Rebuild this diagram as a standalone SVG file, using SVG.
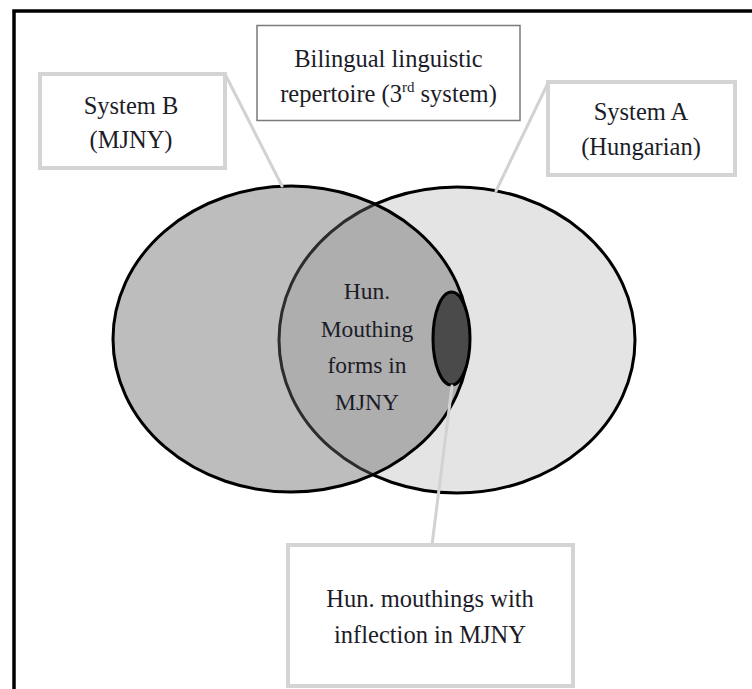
<svg xmlns="http://www.w3.org/2000/svg" width="752" height="689" viewBox="0 0 752 689">
<style>
  .t { font-family: 'Liberation Serif', 'DejaVu Serif', serif; font-size: 24.5px; fill: #1c1c28; text-anchor: middle; }
  .ti { font-family: 'Liberation Serif', 'DejaVu Serif', serif; font-size: 23.5px; fill: #1c1c28; text-anchor: middle; }
  .lbl { fill: #ffffff; stroke: #d4d4d4; stroke-width: 4; }
  .conn { stroke: #d2d2d2; stroke-width: 3; fill: none; stroke-linecap: round; }
  .ell { stroke: #000000; stroke-width: 3; }
</style>
<rect x="0" y="0" width="752" height="689" fill="#ffffff"/>
<rect id="frame" x="14" y="11" width="760" height="720" fill="#ffffff" stroke="#000000" stroke-width="3.5"/>

<g id="systemA-set">
  <ellipse class="ell" cx="457" cy="340" rx="178" ry="153" fill="#e4e4e4"/>
</g>
<g id="systemB-set">
  <ellipse class="ell" cx="291" cy="339" rx="178" ry="153" fill="#656565" fill-opacity="0.43"/>
</g>
<g id="inflection-set">
  <ellipse class="ell" cx="451.5" cy="338.5" rx="18.5" ry="46.5" fill="#4a4a4a"/>
</g>
<g id="overlap-label">
  <text class="ti" x="367" y="299">Hun.</text>
  <text class="ti" x="367" y="337">Mouthing</text>
  <text class="ti" x="367" y="373">forms in</text>
  <text class="ti" x="367" y="410">MJNY</text>
</g>

<g id="connectors">
  <line class="conn" x1="225" y1="74" x2="282" y2="186"/>
  <line class="conn" x1="548" y1="83" x2="496" y2="191"/>
  <line class="conn" x1="452" y1="386" x2="432" y2="545"/>
</g>

<g id="label-systemB">
  <rect class="lbl" x="40" y="74" width="185" height="94"/>
  <text class="t" x="131" y="114">System B</text>
  <text class="t" x="131" y="148">(MJNY)</text>
</g>
<g id="label-bilingual">
  <rect x="257" y="25.5" width="263" height="95" fill="#ffffff" stroke="#7a7a7a" stroke-width="1.5"/>
  <text class="t" x="388.5" y="67">Bilingual linguistic</text>
  <text class="t" x="388.5" y="102">repertoire (3<tspan font-size="15" dy="-10">rd</tspan><tspan dy="10"> system)</tspan></text>
</g>
<g id="label-systemA">
  <rect class="lbl" x="548" y="82" width="187" height="93"/>
  <text class="t" x="641" y="120">System A</text>
  <text class="t" x="641" y="155">(Hungarian)</text>
</g>
<g id="label-inflection">
  <rect class="lbl" x="288" y="545" width="285" height="141"/>
  <text class="t" x="430" y="607">Hun. mouthings with</text>
  <text class="t" x="430" y="643">inflection in MJNY</text>
</g>
</svg>
